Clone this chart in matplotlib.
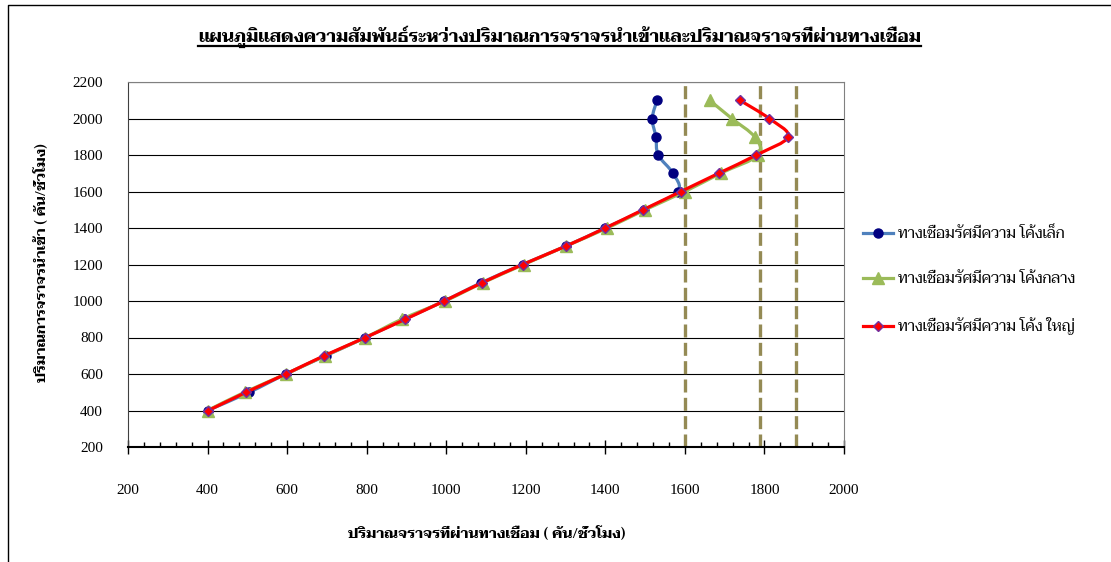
import matplotlib
matplotlib.use('Agg')
import matplotlib.pyplot as plt
from matplotlib.path import Path
from matplotlib.patches import PathPatch
from matplotlib.lines import Line2D

# inflow volume (veh/hr) against the volume passing the connector for three curve radii
inflow = [400, 500, 600, 700, 800, 900, 1000, 1100, 1200, 1300, 1400, 1500, 1600, 1700, 1800, 1900, 2000, 2100]
small_radius = [400, 505, 597, 697, 797, 895, 995, 1088, 1192, 1300, 1400, 1497, 1582, 1570, 1533, 1527, 1518, 1530]
medium_radius = [400, 493, 597, 695, 797, 888, 997, 1092, 1195, 1300, 1405, 1500, 1600, 1690, 1785, 1775, 1718, 1662]
large_radius = [402, 497, 597, 693, 797, 897, 995, 1090, 1192, 1300, 1400, 1495, 1590, 1685, 1780, 1860, 1812, 1738]
capacity = [1600, 1790, 1880]

series_names = ['ทางเชื่อมรัศมีความ โค้งเล็ก', 'ทางเชื่อมรัศมีความ โค้งกลาง', 'ทางเชื่อมรัศมีความ โค้ง ใหญ่']
title_text = 'แผนภูมิแสดงความสัมพันธ์ระหว่างปริมาณการจราจรนำเข้าและปริมาณจราจรที่ผ่านทางเชื่อม'
ylabel_text = 'ปริมาณการจราจรนำเข้า ( คัน/ชั่วโมง)'
xlabel_text = 'ปริมาณจราจรที่ผ่านทางเชื่อม ( คัน/ชั่วโมง)'

thai_family = ['Taviraj', 'Sarabun', 'DejaVu Sans']


def smooth_path(xs, ys):
    # Catmull-Rom style smoothing written as cubic Bezier segments
    pts = list(zip(xs, ys))
    n = len(pts)
    verts = [pts[0]]
    codes = [Path.MOVETO]
    for i in range(n - 1):
        p0 = pts[i - 1] if i > 0 else pts[i]
        p1 = pts[i]
        p2 = pts[i + 1]
        p3 = pts[i + 2] if i + 2 < n else pts[i + 1]
        c1 = (p1[0] + (p2[0] - p0[0]) / 6, p1[1] + (p2[1] - p0[1]) / 6)
        c2 = (p2[0] - (p3[0] - p1[0]) / 6, p2[1] - (p3[1] - p1[1]) / 6)
        verts += [c1, c2, p2]
        codes += [Path.CURVE4] * 3
    return Path(verts, codes)


fig = plt.figure(figsize=(11.11, 5.62), dpi=100)
ax = fig.add_axes([128 / 1111, 115 / 562, 716 / 1111, 365 / 562])

styles = [
    dict(line='#4F81BD', marker='o', mfc='#000080', mec='#000080', ms=6.5),
    dict(line='#9BBB59', marker='^', mfc='#9BBB59', mec='#9BBB59', ms=9),
    dict(line='#FF0000', marker='D', mfc='#FF0000', mec='#7030A0', ms=5),
]
handles = []
for xs, st, z in zip([small_radius, medium_radius, large_radius], styles, [3, 4, 5]):
    ax.add_patch(PathPatch(smooth_path(xs, inflow), facecolor='none', edgecolor=st['line'], lw=2.3, zorder=z))
    ax.plot(xs, inflow, linestyle='none', marker=st['marker'], mfc=st['mfc'], mec=st['mec'], ms=st['ms'], zorder=z)
    handles.append(Line2D([], [], color=st['line'], lw=2.3, marker=st['marker'], mfc=st['mfc'], mec=st['mec'], ms=st['ms']))

for c in capacity:
    ax.axvline(c, color='#948A54', lw=2.4, dashes=(3.9, 1.6), zorder=2)

ax.set_xlim(200, 2000)
ax.set_ylim(200, 2200)
ax.set_xticks(range(200, 2001, 200))
ax.set_xticks(range(200, 2001, 40), minor=True)
ax.set_yticks(range(200, 2201, 200))
ax.yaxis.grid(True, color='black', lw=0.8)
ax.set_axisbelow(True)
ax.tick_params(axis='x', which='major', direction='inout', length=10, width=1, pad=22, labelsize=11)
ax.tick_params(axis='x', which='minor', direction='in', length=3.6, width=1)
ax.tick_params(axis='y', length=0, pad=18, labelsize=11)
for lab in ax.get_xticklabels() + ax.get_yticklabels():
    lab.set_family('Liberation Serif')
ax.spines['top'].set_color('#808080')
ax.spines['right'].set_color('#808080')
ax.spines['left'].set_color('#404040')
ax.spines['bottom'].set_linewidth(1.5)

ax.legend(handles, series_names, loc='upper left', bbox_to_anchor=(849 / 1111, 1 - 212 / 562),
          bbox_transform=fig.transFigure, frameon=False, handlelength=2.0, handletextpad=0.3,
          labelspacing=2.05, prop=dict(family=thai_family, size=11, weight='normal'))

title = fig.text(560 / 1111, 1 - 37 / 562, title_text,
                 ha='center', va='center', fontsize=12.6, fontweight='bold', family=thai_family)
fig.text(41 / 1111, 1 - 263 / 562, ylabel_text, rotation=90,
         ha='center', va='center', fontsize=10.3, fontweight='bold', family=thai_family)
fig.text(487 / 1111, 1 - 533 / 562, xlabel_text,
         ha='center', va='center', fontsize=10.5, fontweight='bold', family=thai_family)

# outer chart border (left and top edges)
fig.add_artist(Line2D([8 / 1111, 8 / 1111, 1.0], [0.0, 1 - 5 / 562, 1 - 5 / 562], color='black', lw=1))

fig.canvas.draw()
bb = title.get_window_extent().transformed(fig.transFigure.inverted())
fig.add_artist(Line2D([bb.x0, bb.x1], [bb.y0 + 0.004, bb.y0 + 0.004], color='black', lw=1.6))

fig.savefig('out.png', dpi=100)
